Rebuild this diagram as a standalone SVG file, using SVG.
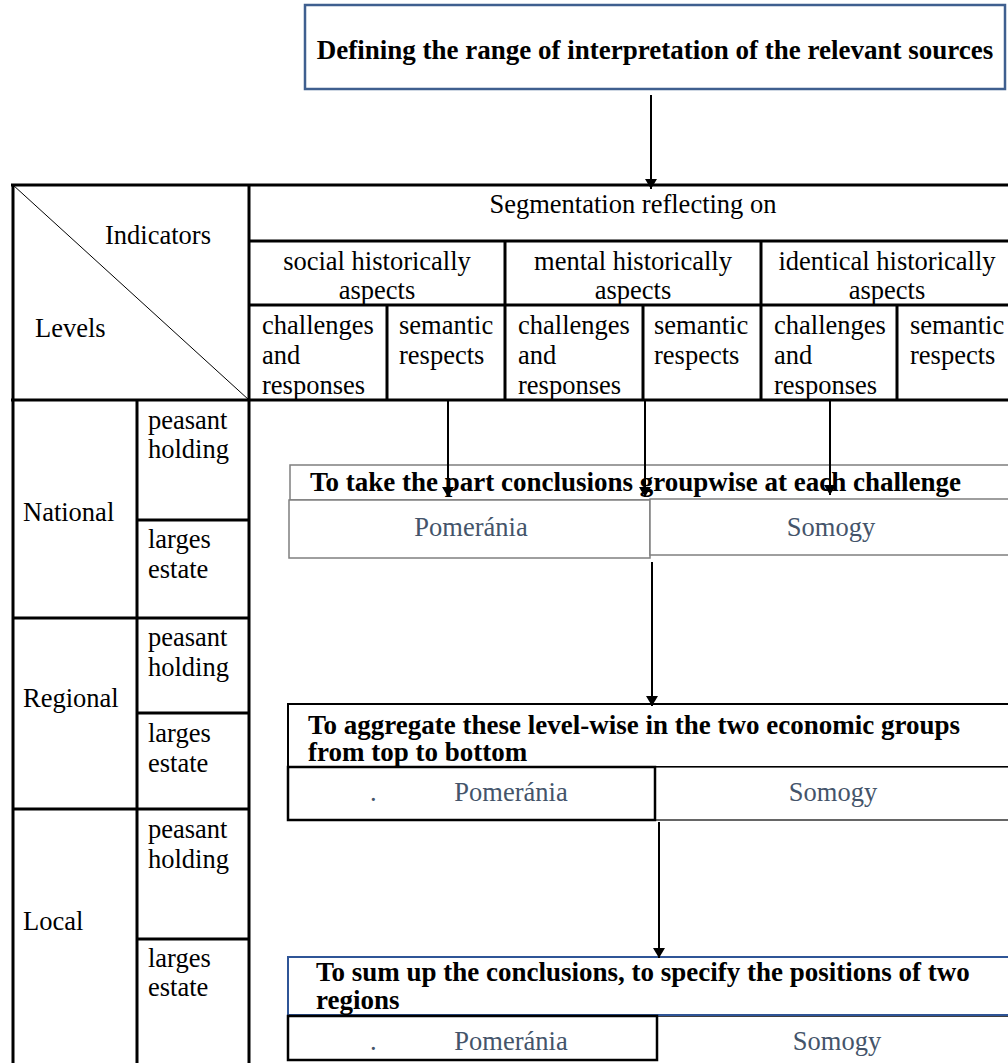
<svg xmlns="http://www.w3.org/2000/svg" width="1008" height="1063" viewBox="0 0 1008 1063">
<style>
.t{font-family:"Liberation Serif","Times New Roman",serif;font-size:26.5px;fill:#000}
.b{font-weight:bold;font-size:27px}
.g{fill:#44546a}
.m{text-anchor:middle}
.grid{stroke:#000;stroke-width:3;fill:none}
.conn{stroke:#000;stroke-width:2;fill:none}
</style>
<defs>
<marker id="ah" viewBox="0 0 10 12" refX="10" refY="6" markerWidth="12" markerHeight="12" markerUnits="userSpaceOnUse" orient="auto">
<path d="M0,0 L10,6 L0,12 z" fill="#000"/>
</marker>
</defs>
<rect width="1008" height="1063" fill="#fff"/>

<g id="node-define">
<rect x="305" y="5" width="700" height="84" fill="#fff" stroke="#3f5f8f" stroke-width="2.5"/>
<text class="t b m" x="655" y="59">Defining the range of interpretation of the relevant sources</text>
</g>

<g id="node-table">
<path class="grid" d="M11,185H1017 M13,185V1063 M249,185V1063 M249,241H1017 M249,305H1017 M11,400H1017 M505,241V305 M761,241V305 M387,305V400 M505,305V400 M643,305V400 M761,305V400 M897,305V400 M137,400V1063 M13,618H249 M13,809H249 M137,520H249 M137,713H249 M137,939H249"/>
<line x1="13" y1="185" x2="249" y2="400" stroke="#000" stroke-width="1"/>
<text class="t" x="105" y="244">Indicators</text>
<text class="t" x="35" y="337">Levels</text>
<text class="t m" x="633" y="213">Segmentation reflecting on</text>
<text class="t m" x="377" y="270">social historically</text>
<text class="t m" x="377" y="299">aspects</text>
<text class="t m" x="633" y="270">mental historically</text>
<text class="t m" x="633" y="299">aspects</text>
<text class="t m" x="887" y="270">identical historically</text>
<text class="t m" x="887" y="299">aspects</text>
<text class="t" x="262" y="334">challenges</text><text class="t" x="262" y="364">and</text><text class="t" x="262" y="394">responses</text>
<text class="t" x="399" y="334">semantic</text><text class="t" x="399" y="364">respects</text>
<text class="t" x="518" y="334">challenges</text><text class="t" x="518" y="364">and</text><text class="t" x="518" y="394">responses</text>
<text class="t" x="654" y="334">semantic</text><text class="t" x="654" y="364">respects</text>
<text class="t" x="774" y="334">challenges</text><text class="t" x="774" y="364">and</text><text class="t" x="774" y="394">responses</text>
<text class="t" x="910" y="334">semantic</text><text class="t" x="910" y="364">respects</text>
<text class="t" x="23" y="521">National</text>
<text class="t" x="148" y="429">peasant</text><text class="t" x="148" y="458">holding</text>
<text class="t" x="148" y="548">larges</text><text class="t" x="148" y="578">estate</text>
<text class="t" x="23" y="707">Regional</text>
<text class="t" x="148" y="646">peasant</text><text class="t" x="148" y="676">holding</text>
<text class="t" x="148" y="742">larges</text><text class="t" x="148" y="772">estate</text>
<text class="t" x="23" y="930">Local</text>
<text class="t" x="148" y="838">peasant</text><text class="t" x="148" y="868">holding</text>
<text class="t" x="148" y="967">larges</text><text class="t" x="148" y="996">estate</text>
</g>

<g id="node-step1">
<rect x="290" y="465" width="722" height="35" fill="#fff" stroke="#7f7f7f" stroke-width="1.5"/>
<rect x="289" y="500" width="361" height="58" fill="#fff" stroke="#7f7f7f" stroke-width="1.5"/>
<rect x="650" y="499" width="362" height="56" fill="#fff" stroke="#7f7f7f" stroke-width="1.5"/>
<text class="t b" x="310" y="491">To take the part conclusions groupwise at each challenge</text>
<text class="t g m" x="471" y="536">Pomeránia</text>
<text class="t g m" x="831" y="536">Somogy</text>
</g>

<g id="node-step2">
<rect x="288" y="704" width="724" height="63" fill="#fff" stroke="#000" stroke-width="2"/>
<rect x="655" y="767" width="357" height="53" fill="#fff" stroke="#000" stroke-width="1.2"/>
<rect x="288" y="767" width="367" height="53" fill="#fff" stroke="#000" stroke-width="2.5"/>
<text class="t b" x="308" y="734">To aggregate these level-wise in the two economic groups</text>
<text class="t b" x="308" y="761">from top to bottom</text>
<text class="t g" x="370" y="801">.</text>
<text class="t g m" x="511" y="801">Pomeránia</text>
<text class="t g m" x="833" y="801">Somogy</text>
</g>

<g id="node-step3">
<line x1="657" y1="1016" x2="1012" y2="1016" stroke="#000" stroke-width="1.5"/>
<rect x="288" y="957" width="724" height="58" fill="#fff" stroke="#2f5597" stroke-width="2"/>
<rect x="288" y="1016" width="369" height="44" fill="#fff" stroke="#000" stroke-width="2.5"/>
<text class="t b" x="316" y="981">To sum up the conclusions, to specify the positions of two</text>
<text class="t b" x="316" y="1009">regions</text>
<text class="t g" x="370" y="1050">.</text>
<text class="t g m" x="511" y="1050">Pomeránia</text>
<text class="t g m" x="837" y="1050">Somogy</text>
</g>

<g id="connectors">
<line class="conn" x1="651" y1="95" x2="651" y2="189" marker-end="url(#ah)"/>
<line class="conn" x1="448" y1="401" x2="448" y2="497" marker-end="url(#ah)"/>
<line class="conn" x1="645" y1="401" x2="645" y2="497" marker-end="url(#ah)"/>
<line class="conn" x1="830" y1="401" x2="830" y2="495" marker-end="url(#ah)"/>
<line class="conn" x1="652" y1="562" x2="652" y2="706" marker-end="url(#ah)"/>
<line class="conn" x1="659" y1="822" x2="659" y2="958" marker-end="url(#ah)"/>
</g>
</svg>
